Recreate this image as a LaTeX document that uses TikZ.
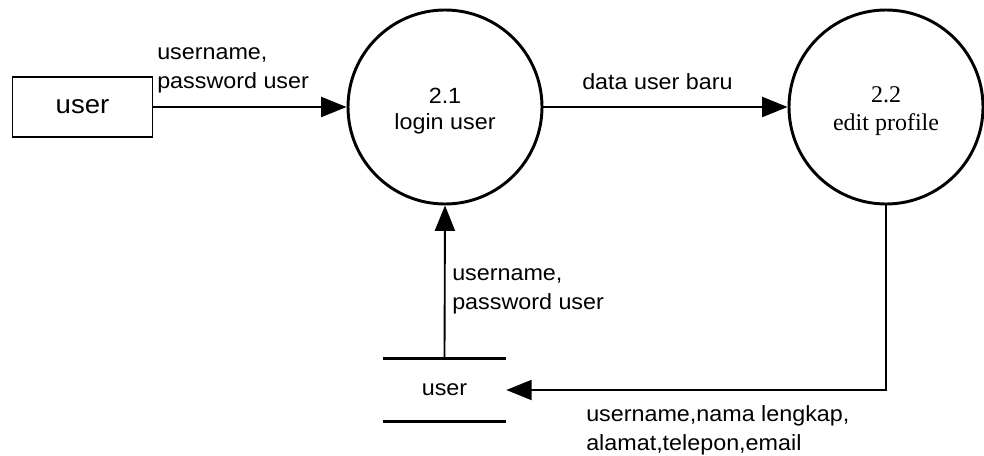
\documentclass[tikz,border=0pt]{standalone}
\usepackage{fontspec}
\setmainfont{Liberation Sans}
\newfontfamily\sansx[FakeStretch=1.06]{Liberation Sans}
\newfontfamily\serifx{Liberation Serif}
\usetikzlibrary{arrows.meta}
\begin{document}
\begin{tikzpicture}[x=0.75pt,y=-0.75pt,
  lbl/.style={font=\sansx\fontsize{16.5}{21.75}\selectfont, inner sep=0pt, align=left, anchor=base west},
  proc/.style={circle, draw, line width=2.2pt, minimum size=145.5pt, inner sep=0pt, align=center},
  ent/.style={rectangle, draw, line width=1pt, minimum width=105pt, minimum height=45pt, inner sep=0pt, font=\sansx\fontsize{19.5}{24}\selectfont},
  store/.style={rectangle, minimum width=92.25pt, minimum height=46.5pt, inner sep=0pt, font=\sansx\fontsize{16.5}{20}\selectfont},
  storeline/.style={line width=2.2pt},
  flow/.style={draw, line width=1.4pt, -{Triangle[length=19pt,width=15pt]}}
]
\useasboundingbox (0,0) rectangle (984,456);
% nodes
\node[ent] (ext) at (82.5,107) {user};
\node[proc, font=\sansx\fontsize{16.5}{19.5}\selectfont] (p1) at (445,107) {\rule{0pt}{18pt}2.1\\login user};
\node[proc, font=\serifx\fontsize{18}{20.5}\selectfont] (p2) at (886,107) {\rule{0pt}{18pt}2.2\\edit profile};
\node[store] (ds) at (444.5,390) {user};
\draw[storeline] (ds.north west) -- (ds.north east);
\draw[storeline] (ds.south west) -- (ds.south east);
% flows
\draw[flow] (ext.east) -- (p1.west);
\draw[flow] (p1.east) -- (p2.west);
\draw[flow] (ds.north) -- (p1.south);
\draw[flow] (p2.south) |- (ds.east);
% labels
\node[lbl] (l1) at (157,89) {username,\\password user};
\node[lbl] (l2) at (582,90) {data user baru};
\node[lbl] (l3) at (452,309) {username,\\password user};
\node[lbl] (l4) at (586,450) {username,nama lengkap,\\alamat,telepon,email};
\end{tikzpicture}
\end{document}
